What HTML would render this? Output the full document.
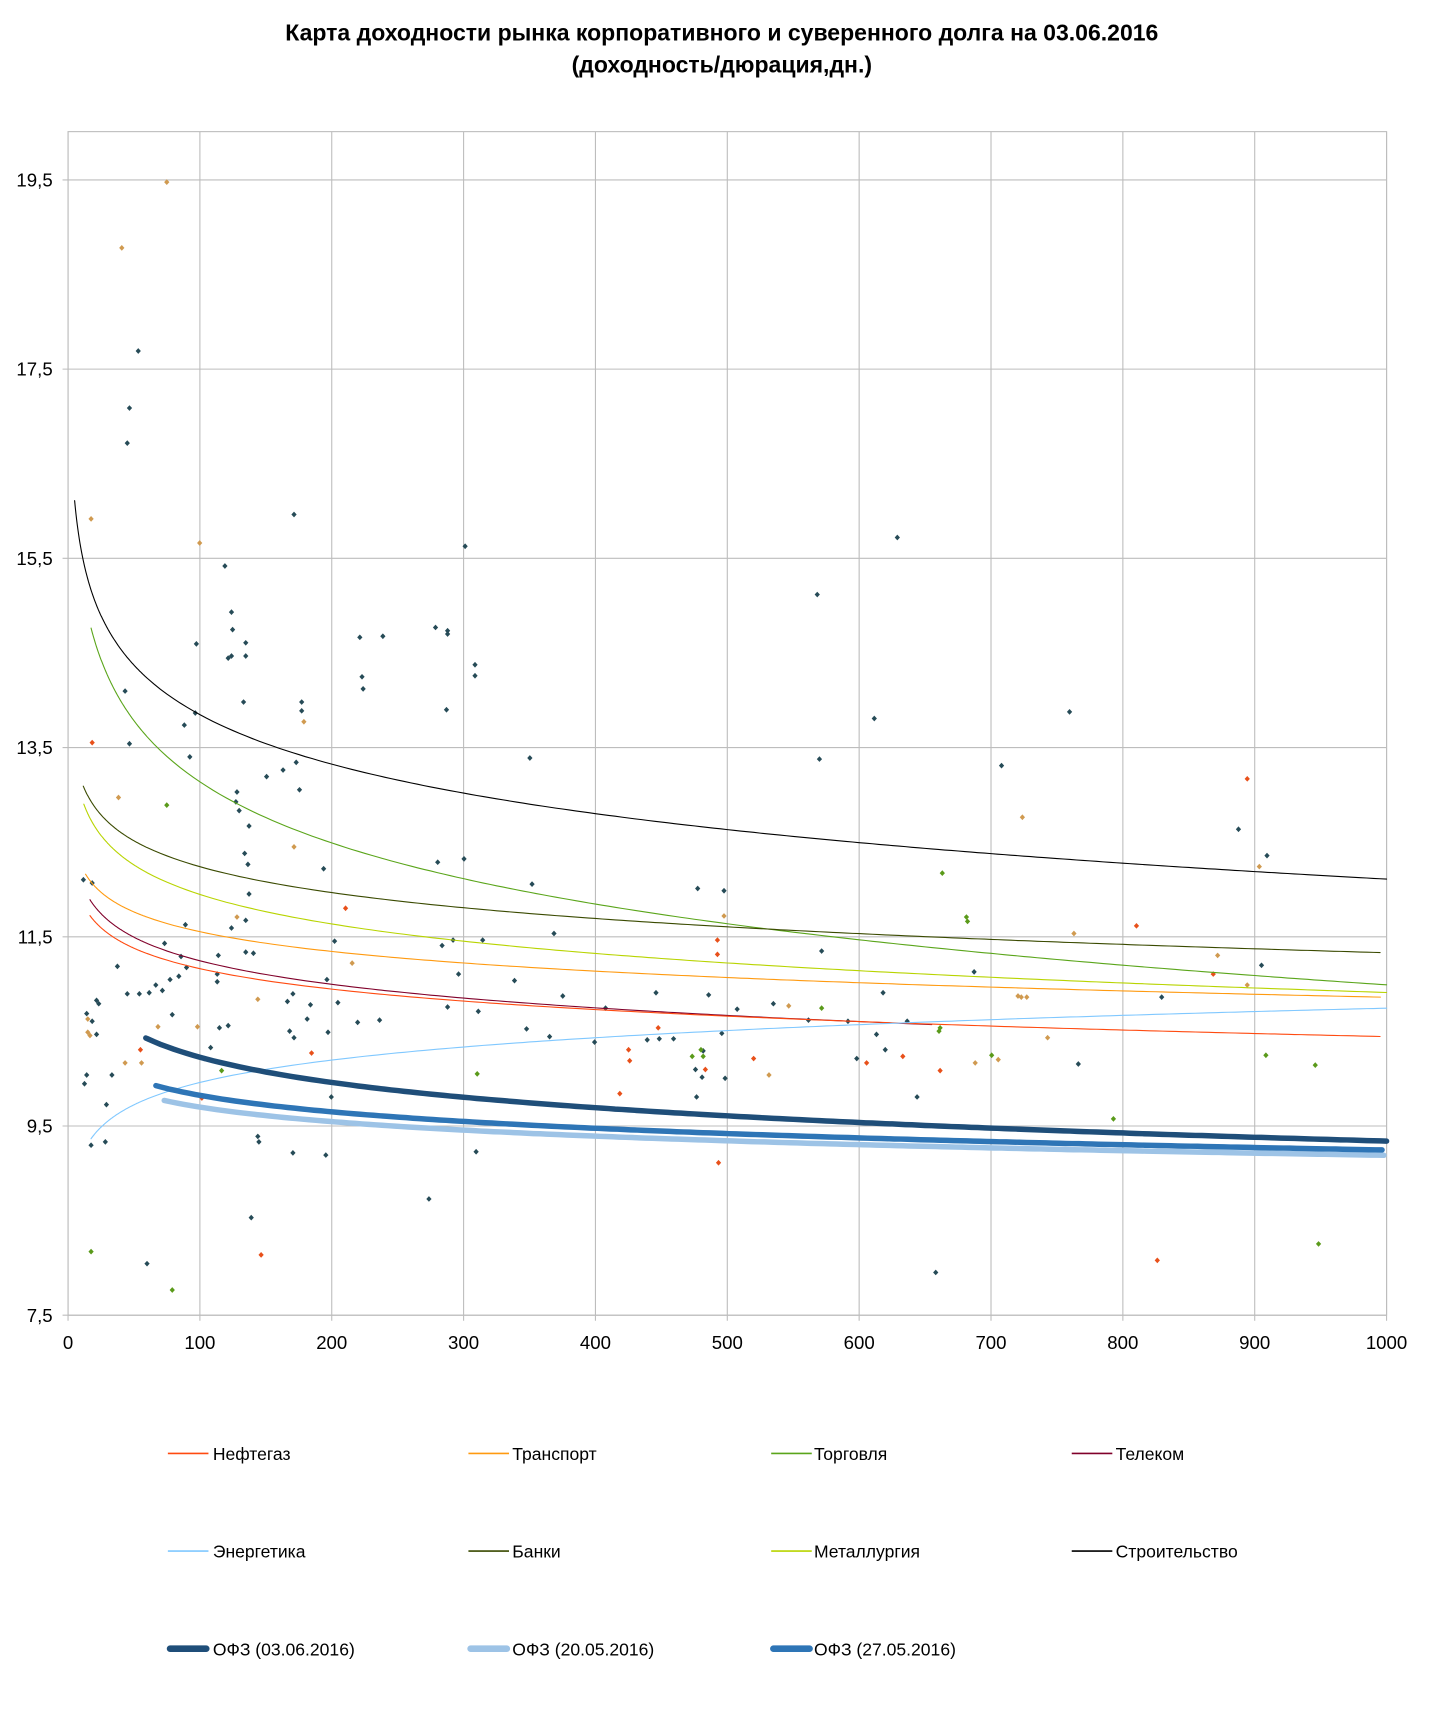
<!DOCTYPE html>
<html><head><meta charset="utf-8"><style>
html,body{margin:0;padding:0;background:#fff;}
svg{display:block;}
text{font-family:"Liberation Sans","DejaVu Sans",sans-serif;}
</style></head><body>
<svg id="s" width="1441" height="1720" viewBox="0 0 1313.6 1568" xmlns="http://www.w3.org/2000/svg">
<rect width="1313.6" height="1568" fill="#fff"/>
<text x="658" y="37" text-anchor="middle" font-size="21" font-weight="bold">Карта доходности рынка корпоративного и суверенного долга на 03.06.2016</text>
<text x="658" y="66" text-anchor="middle" font-size="21" font-weight="bold">(доходность/дюрация,дн.)</text>
<g id="grid" stroke="#bdbdbd" stroke-width="1" fill="none"></g>
<g id="ylab" font-size="17" text-anchor="end"></g>
<g id="xlab" font-size="17" text-anchor="middle"></g>
<g id="pts"></g>
<g id="curves" fill="none"></g>
<g font-size="16">
<line x1="153" y1="1325" x2="190" y2="1325" stroke="#ff4a10" stroke-width="1.5"/><text x="194" y="1331">Нефтегаз</text>
<line x1="427" y1="1325" x2="464" y2="1325" stroke="#ff9a10" stroke-width="1.5"/><text x="467" y="1331">Транспорт</text>
<line x1="703" y1="1325" x2="740" y2="1325" stroke="#5aa51a" stroke-width="1.5"/><text x="742" y="1331">Торговля</text>
<line x1="977" y1="1325" x2="1014" y2="1325" stroke="#80002a" stroke-width="1.5"/><text x="1017" y="1331">Телеком</text>
<line x1="153" y1="1414" x2="190" y2="1414" stroke="#80c8ff" stroke-width="1.5"/><text x="194" y="1420">Энергетика</text>
<line x1="427" y1="1414" x2="464" y2="1414" stroke="#3a4a00" stroke-width="1.5"/><text x="467" y="1420">Банки</text>
<line x1="703" y1="1414" x2="740" y2="1414" stroke="#b8d400" stroke-width="1.5"/><text x="742" y="1420">Металлургия</text>
<line x1="977" y1="1414" x2="1014" y2="1414" stroke="#000" stroke-width="1.5"/><text x="1017" y="1420">Строительство</text>
<line x1="155" y1="1503" x2="188" y2="1503" stroke="#1f4e79" stroke-width="6" stroke-linecap="round"/><text x="194" y="1509">ОФЗ (03.06.2016)</text>
<line x1="429" y1="1503" x2="462" y2="1503" stroke="#9dc3e6" stroke-width="6" stroke-linecap="round"/><text x="467" y="1509">ОФЗ (20.05.2016)</text>
<line x1="705" y1="1503" x2="738" y2="1503" stroke="#2e75b6" stroke-width="6" stroke-linecap="round"/><text x="742" y="1509">ОФЗ (27.05.2016)</text>
</g>
</svg>
<script>
var NS="http://www.w3.org/2000/svg";
function el(p,t,a,txt){var e=document.createElementNS(NS,t);for(var k in a)e.setAttribute(k,a[k]);if(txt!==undefined)e.textContent=txt;document.getElementById(p).appendChild(e);return e;}
function X(v){return 62+v*1.202;}function Y(v){return 1199-(v-7.5)*86.25;}
el("grid","rect",{x:62,y:120,width:1202,height:1079});
for(var i=0;i<=10;i++){var x=X(i*100);el("grid","line",{x1:x,y1:120,x2:x,y2:1204});el("xlab","text",{x:x,y:1230},String(i*100));}
var yl=["7,5","9,5","11,5","13,5","15,5","17,5","19,5"];
for(var j=0;j<7;j++){var y=Y(7.5+2*j);el("grid","line",{x1:57,y1:y,x2:1264,y2:y});el("ylab","text",{x:48,y:y+6},yl[j]);}
var C={t:"#264b57",r:"#e8501a",g:"#5a9a1a",o:"#d09a50",y:"#b8a000"};
var P={t:[76,802,84,805,114,630,118,678,126,320,118,372,116,404,179,587,178,650,173,690,168,661,212,574,211,558,208,600,211,598,205,516,224,586,224,598,222,640,227,753,223,778,226,788,227,815,224,839,224,868,215,731,216,722,218,739,275,640,275,648,273,720,268,469,270,695,258,702,243,708,295,792,328,581,330,617,331,628,349,580,397,572,408,575,408,578,407,647,424,498,423,783,399,786,433,606,433,616,483,691,485,806,513,908,745,542,747,692,818,490,797,655,975,649,913,698,1129,756,1155,780,853,1160,391,1093,229,1110,134,1152,83,1044,96,1041,235,1036,236,1041,267,1051,434,1050,186,965,192,955,200,937,208,935,107,881,77,988,79,980,102,980,97,1007,88,943,84,931,79,924,90,915,88,912,116,906,127,906,136,905,142,898,148,903,155,893,163,890,170,882,165,872,150,860,169,843,157,925,198,895,198,888,199,871,211,846,231,869,267,906,280,929,264,940,268,946,299,941,305,858,308,914,283,916,298,893,262,913,302,1000,297,1053,326,932,346,930,403,862,408,918,413,857,418,888,436,922,440,857,469,894,480,938,501,945,505,851,552,919,590,948,601,947,614,947,635,1000,634,975,640,982,641,958,646,907,661,983,672,920,705,915,737,930,749,867,773,931,781,965,799,943,805,905,807,957,827,931,836,1000,888,886,983,970,1059,909,1150,880,636,810,660,812,542,950,598,905,658,942],
r:[84,677,315,828,655,1060,654,870,654,857,600,937,565,997,574,967,573,957,643,975,687,965,790,969,823,963,857,976,1036,844,1055,1149,1106,888,1137,710,238,1144,284,960,184,1001,128,957],
g:[83,1141,157,1176,152,734,856,940,857,937,859,796,882,840,904,962,1154,962,1199,971,1202,1134,1015,1020,631,963,641,963,639,957,435,979,202,976,749,919,881,836],
o:[83,473,111,226,152,166,182,495,277,658,268,772,660,835,719,917,932,745,979,851,1148,790,1110,871,1137,898,910,966,889,969,955,946,936,909,928,908,235,911,129,969,144,936,216,836,180,936,114,969,80,929,82,944,108,727,80,941,321,878,701,980,931,909]};
for(var k in P){var a=P[k];for(var i=0;i<a.length;i+=2){var x=a[i],y=a[i+1];el("pts","path",{d:"M"+(x-2.4)+" "+y+"L"+x+" "+(y-2.6)+"L"+(x+2.4)+" "+y+"L"+x+" "+(y+2.6)+"Z",fill:C[k]});}}
function curve(a,b,x0,x1,col,w){var d="";for(var x=x0;x<=x1+0.01;x+=(x<60?0.5:5)){var y=a+b*Math.log(x);d+=(d?"L":"M")+X(x).toFixed(1)+" "+Y(y).toFixed(1);}el("curves","path",{d:d,stroke:col,"stroke-width":w,"stroke-linecap":"round"});}
curve(17.325,-0.755,5,1000,"#000",1);
curve(17.43,-0.932,17.5,1000,"#5aa51a",1);
curve(14.06,-0.395,11.6,1000,"#3a4a00",1);
curve(14.02,-0.45,12,1000,"#b8d400",1);
curve(12.94,-0.301,13.3,1000,"#ff9a10",1);
curve(12.9,-0.359,16.6,660,"#80002a",1);
curve(12.6,-0.312,16.6,1000,"#ff4a10",1);
curve(8.39,0.341,17.5,1000,"#80c8ff",1);
curve(10.72,-0.2215,73,1000,"#9dc3e6",5);
curve(10.98,-0.251,66.6,1000,"#2e75b6",5);
curve(12.0,-0.385,59,1000,"#1f4e79",5);
</script>
</body></html>
